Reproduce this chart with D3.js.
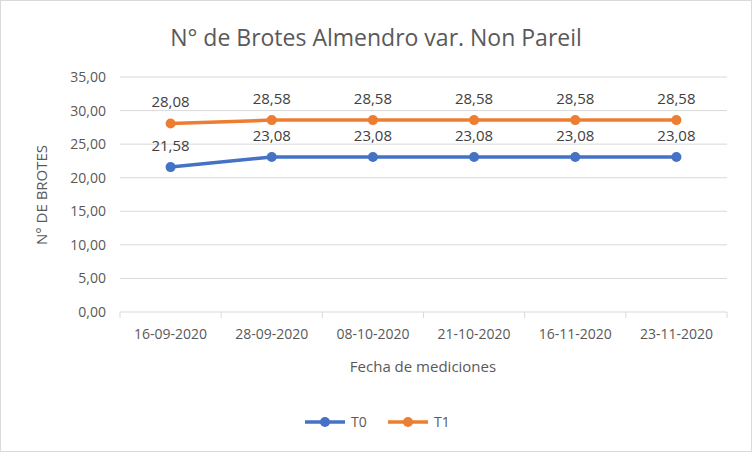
<!DOCTYPE html><html><head><meta charset="utf-8"><script src="https://cdn.jsdelivr.net/npm/d3@7"></script>
<style>body{margin:0;background:#fff}text{font-family:"Open Sans",sans-serif;fill:#595959}</style></head><body><svg id="c" width="752" height="452"></svg><script>
const categories=["16-09-2020","28-09-2020","08-10-2020","21-10-2020","16-11-2020","23-11-2020"];
const t0=[21.58,23.08,23.08,23.08,23.08,23.08];
const t1=[28.08,28.58,28.58,28.58,28.58,28.58];
const yTicks=[0,5,10,15,20,25,30,35];
const series=[{name:"T0",values:t0,color:"#4472C4"},{name:"T1",values:t1,color:"#ED7D31"}];
const svg=d3.select("#c");
svg.append("rect").attr("x",0.5).attr("y",0.5).attr("width",751).attr("height",451).attr("fill","#fff").attr("stroke","#d9d9d9");
const x=d3.scaleBand().domain(categories).range([120,727]);
const y=d3.scaleLinear().domain([0,35]).range([312,77]);
const fmt=v=>d3.format(".2f")(v).replace(".",",");
svg.append("g").selectAll("line").data(yTicks).join("line").attr("x1",120).attr("x2",727).attr("y1",d=>y(d)).attr("y2",d=>y(d)).attr("stroke","#d9d9d9");
svg.append("g").selectAll("text").data(yTicks).join("text").attr("x",106).attr("y",d=>y(d)+5).attr("text-anchor","end").attr("font-size",14).text(fmt);
const bounds=categories.map(c=>x(c)).concat([727]);
svg.append("g").selectAll("line").data(bounds).join("line").attr("x1",d=>d).attr("x2",d=>d).attr("y1",312).attr("y2",318).attr("stroke","#d9d9d9");
svg.append("g").selectAll("text").data(categories).join("text").attr("x",d=>x(d)+x.bandwidth()/2).attr("y",339).attr("text-anchor","middle").attr("font-size",14).text(d=>d);
svg.append("text").attr("x",376).attr("y",46).attr("text-anchor","middle").attr("font-size",23).text("N°  de Brotes Almendro var. Non Pareil");
svg.append("text").attr("x",423).attr("y",372).attr("text-anchor","middle").attr("font-size",15).text("Fecha de mediciones");
svg.append("text").attr("transform","translate(47,195) rotate(-90)").attr("text-anchor","middle").attr("font-size",15).text("N° DE BROTES");
const line=d3.line().x((d,i)=>x(categories[i])+x.bandwidth()/2).y(d=>y(d));
series.forEach(s=>{
 svg.append("path").datum(s.values).attr("d",line).attr("fill","none").attr("stroke",s.color).attr("stroke-width",3.5);
 svg.append("g").selectAll("circle").data(s.values).join("circle").attr("cx",(d,i)=>x(categories[i])+x.bandwidth()/2).attr("cy",d=>y(d)).attr("r",5).attr("fill",s.color);
 svg.append("g").selectAll("text").data(s.values).join("text").attr("x",(d,i)=>x(categories[i])+x.bandwidth()/2).attr("y",d=>y(d)-16).attr("text-anchor","middle").attr("font-size",15).attr("style","fill:#404040").text(fmt);
});
const lg=[{x:305},{x:388}];
series.forEach((s,i)=>{
 const g=svg.append("g");
 g.append("line").attr("x1",lg[i].x).attr("x2",lg[i].x+40).attr("y1",422).attr("y2",422).attr("stroke",s.color).attr("stroke-width",3.5);
 g.append("circle").attr("cx",lg[i].x+20).attr("cy",422).attr("r",5).attr("fill",s.color);
 g.append("text").attr("x",lg[i].x+46).attr("y",427).attr("font-size",14).text(s.name);
});
</script></body></html>
